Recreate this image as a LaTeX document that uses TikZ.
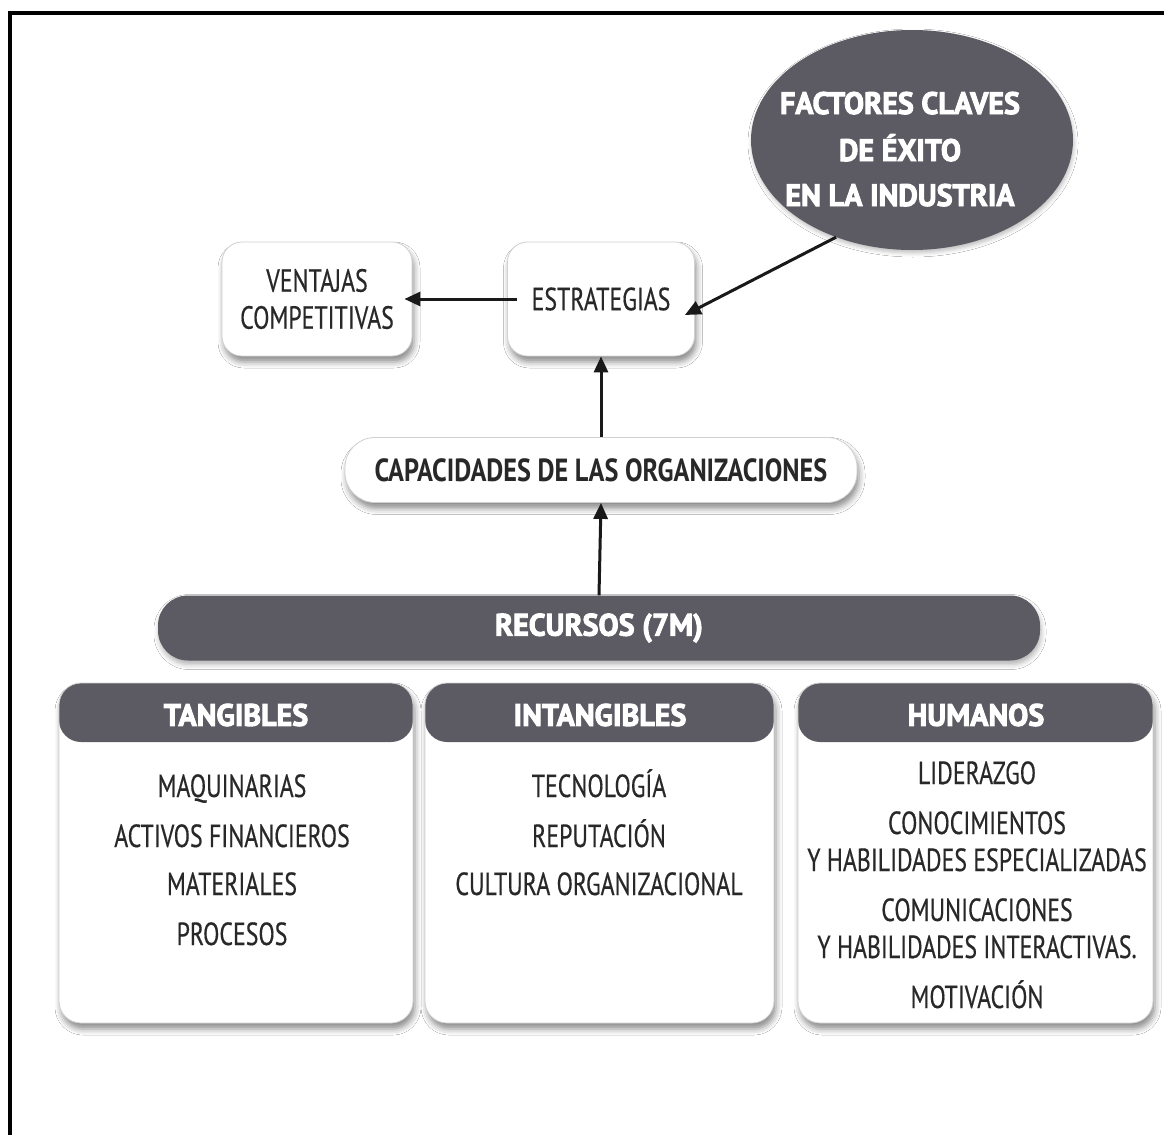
\documentclass[tikz,border=0pt]{standalone}
\usepackage{fontspec}
\setmainfont{PT Sans}
\newfontfamily\itemfont[FakeStretch=0.745,FakeBold=0.4]{PT Sans}
\newfontfamily\capfont[FakeStretch=0.82]{PT Sans Bold}
\newfontfamily\headfont[FakeStretch=0.97,FakeBold=3]{PT Sans Bold}
\usetikzlibrary{arrows.meta,shapes.geometric,shadows.blur}

\definecolor{hdr}{RGB}{92,91,99}
\definecolor{ink}{RGB}{40,40,40}

\tikzset{
  softbox/.style={draw=black!18, line width=0.8pt, fill=white, rounded corners=20pt,
    blur shadow={shadow xshift=2pt, shadow yshift=-6pt, shadow blur radius=6pt, shadow opacity=45}},
  darkpill/.style={fill=hdr, rounded corners=30pt,
    blur shadow={shadow xshift=1pt, shadow yshift=-4pt, shadow blur radius=5pt, shadow opacity=30}},
  itemtxt/.style={font=\itemfont\fontsize{32}{37}\selectfont, text=ink, align=center, inner sep=0pt},
  line/.style={itemtxt, anchor=base},
  headtxt/.style={font=\headfont\fontsize{31}{44}\selectfont, text=white, align=center, inner sep=0pt},
  arr/.style={-{Triangle[length=16pt,width=14pt]}, line width=3pt, black!90},
  column/.style={softbox, rounded corners=22pt, minimum height=340pt,
    path picture={\fill[hdr] ([yshift=2pt]path picture bounding box.north west)
      rectangle ([yshift=-59pt]path picture bounding box.north east);}}
}

\begin{document}
\begin{tikzpicture}[x=1pt, y=-1pt]
  \useasboundingbox (0,0) rectangle (1164,1135);
  \fill[white] (0,0) rectangle (1164,1135);
  % frame on the top and left edges
  \draw[line width=4pt] (10,1135) -- (10,13) -- (1164,13);

  % key success factors
  \node[ellipse, fill=hdr, inner sep=0pt, minimum width=322pt, minimum height=220pt,
        blur shadow={shadow xshift=1pt, shadow yshift=-3pt, shadow blur radius=4pt, shadow opacity=25}] (fcs) at (912,140) {};
  \draw[line width=4pt] (10,13) -- (1164,13);
  \node[headtxt, anchor=base] (fcs1) at (900,114) {FACTORES CLAVES};
  \node[headtxt, anchor=base] (fcs2) at (900,161) {DE ÉXITO};
  \node[headtxt, anchor=base] (fcs3) at (900,206) {EN LA INDUSTRIA};

  % strategy row
  \node[softbox, itemtxt, minimum width=190pt, minimum height=114pt] (vent) at (317,299)
    {VENTAJAS\\COMPETITIVAS};
  \node[softbox, itemtxt, minimum width=187pt, minimum height=114pt] (estr) at (601,299)
    {ESTRATEGIAS};

  % capabilities
  \node[softbox, rounded corners=30pt, minimum width=512pt, minimum height=65pt,
        font=\capfont\fontsize{32}{38}\selectfont, text=ink, inner sep=0pt] (cap) at (601,470)
    {CAPACIDADES DE LAS ORGANIZACIONES};

  % resources bar
  \node[darkpill, minimum width=882pt, minimum height=65pt, headtxt] (rec) at (599,628)
    {RECURSOS (7M)};

  % resource columns
  \node[column, minimum width=354pt] (tang) at (236,853) {};
  \node[column, minimum width=349pt] (intg) at (599.5,853) {};
  \node[column, minimum width=355pt] (hum) at (975.5,853) {};

  \node[headtxt] (tangh) at (236,715) {TANGIBLES};
  \node[headtxt] (intgh) at (600,715) {INTANGIBLES};
  \node[headtxt] (humh) at (976,715) {HUMANOS};

  \node[line] (t1) at (232,797) {MAQUINARIAS};
  \node[line] (t2) at (232,847) {ACTIVOS FINANCIEROS};
  \node[line] (t3) at (232,895) {MATERIALES};
  \node[line] (t4) at (232,945) {PROCESOS};

  \node[line] (i1) at (599,797) {TECNOLOGÍA};
  \node[line] (i2) at (599,847) {REPUTACIÓN};
  \node[line] (i3) at (599,895) {CULTURA ORGANIZACIONAL};

  \node[line] (h1) at (977,784) {LIDERAZGO};
  \node[line] (h2) at (977,834) {CONOCIMIENTOS};
  \node[line] (h3) at (977,871) {Y HABILIDADES ESPECIALIZADAS};
  \node[line] (h4) at (977,921) {COMUNICACIONES};
  \node[line] (h5) at (977,958) {Y HABILIDADES INTERACTIVAS.};
  \node[line] (h6) at (977,1008) {MOTIVACIÓN};

  % connectors
  \draw[arr] ([xshift=10pt]estr.west) -- ([xshift=-8pt]vent.east);
  \draw[arr] (fcs.232) -- ([xshift=-10pt,yshift=-16pt]estr.east);
  \draw[arr] (cap.north) -- (estr.south);
  \draw[arr] (rec.north) -- (cap.south);
\end{tikzpicture}
\end{document}
